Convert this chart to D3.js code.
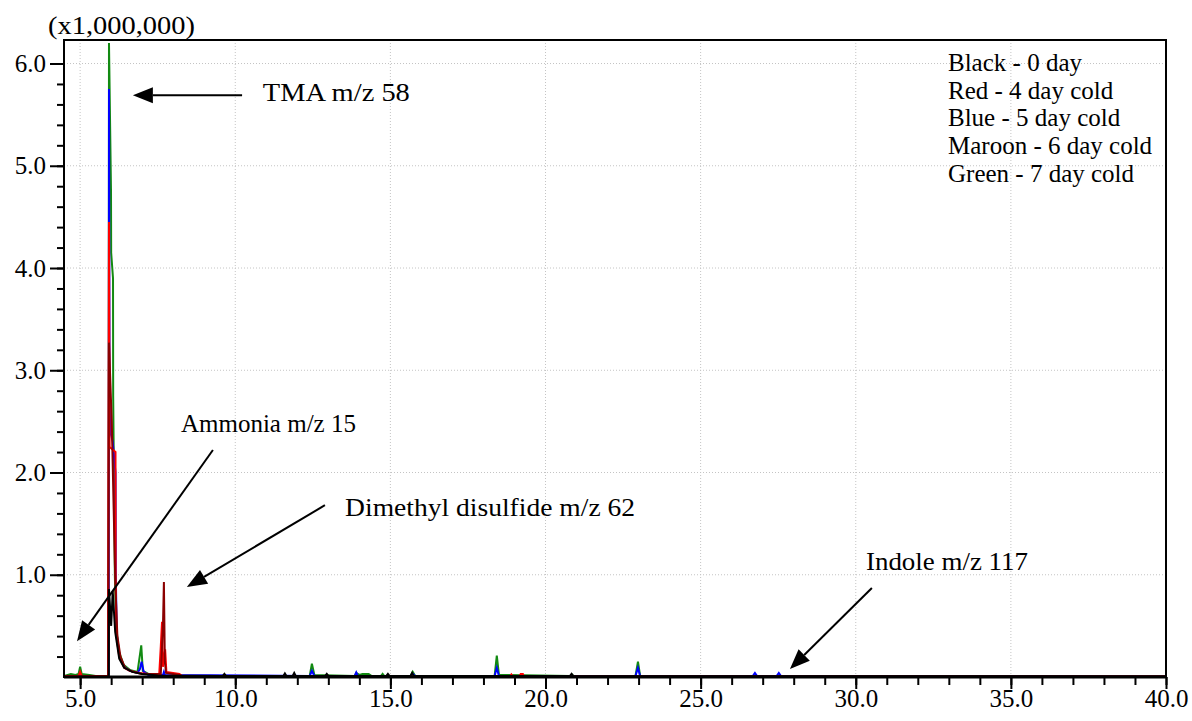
<!DOCTYPE html>
<html>
<head>
<meta charset="utf-8">
<script src="https://cdn.jsdelivr.net/npm/d3@7"></script>
<style>
  body { margin: 0; background: #fff; }
  svg text { font-family: "Liberation Serif", "Times New Roman", serif; fill: #000; }
</style>
</head>
<body>
<div id="okvir"></div>
<script>
// retention time (min) vs intensity (x1,000,000)
const greenTrace = [[4.48,0.01],[4.7,0.03],[4.85,0.02],[4.95,0.03],[5.0,0.1],[5.05,0.03],[5.3,0.02],[5.5,0.01],[5.88,0.01],[5.915,0.03],
  [5.93,6.2],[5.995,4.75],[6.0,4.15],[6.06,3.9],[6.065,2.75],[6.12,0.98],[6.16,0.5],[6.25,0.25],[6.4,0.12],[6.6,0.07],[6.85,0.05],
  [6.97,0.31],[7.02,0.06],[7.2,0.03],[7.5,0.01],[12.4,0.01],[12.47,0.13],[12.55,0.02],[13.85,0.01],[13.9,0.04],[14.0,0.02],[14.1,0.03],
  [14.3,0.03],[14.4,0.01],[14.7,0.01],[14.75,0.03],[14.8,0.01],[15.65,0.01],[15.72,0.05],[15.8,0.01],[18.36,0.01],[18.43,0.21],[18.5,0.02],
  [20.8,0.01],[20.85,0.025],[20.9,0.01],[22.9,0.01],[22.98,0.15],[23.05,0.01],[40,0.005]];

const blueTrace = [[4.48,0.005],[5.9,0.01],[5.92,0.02],[5.93,5.75],[5.95,2.7],[5.97,2.4],[6.05,2.3],[6.14,2.0],[6.15,1.0],[6.18,0.42],
  [6.27,0.2],[6.42,0.1],[6.6,0.06],[6.85,0.04],[6.93,0.08],[6.98,0.15],[7.05,0.05],[7.2,0.02],[7.67,0.02],[7.7,0.05],[7.73,0.02],
  [12.4,0.01],[12.47,0.06],[12.55,0.01],[13.85,0.01],[13.9,0.045],[13.95,0.01],[15.65,0.01],[15.72,0.03],[15.8,0.01],[18.36,0.01],
  [18.43,0.09],[18.5,0.01],[22.9,0.01],[22.98,0.09],[23.05,0.01],[26.68,0.01],[26.75,0.04],[26.82,0.01],[27.45,0.01],[27.52,0.04],
  [27.59,0.01],[40,0.005]];

const redTrace = [[4.48,0.01],[4.95,0.01],[5.0,0.05],[5.05,0.01],[5.9,0.01],[5.93,4.45],[5.95,2.25],[6.14,2.2],[6.145,1.0],[6.17,0.4],
  [6.26,0.2],[6.42,0.09],[6.6,0.06],[6.9,0.04],[7.2,0.03],[7.55,0.03],[7.6,0.3],[7.64,0.54],[7.67,0.1],[7.74,0.27],[7.78,0.05],
  [8.2,0.03],[8.3,0.005],[18.85,0.005],[18.9,0.025],[18.95,0.005],[19.15,0.005],[19.2,0.03],[19.27,0.03],[19.3,0.005],[40,0.005]];

const maroonTrace = [[4.48,0.005],[5.9,0.005],[5.93,3.27],[5.99,2.74],[6.02,2.5],[6.12,1.1],[6.15,0.8],[6.2,0.4],[6.3,0.2],[6.45,0.09],
  [6.7,0.05],[7.0,0.03],[7.6,0.03],[7.67,0.5],[7.7,0.93],[7.73,0.15],[7.77,0.04],[8.2,0.02],[8.3,0.005],[40,0.005]];

const blackTrace = [[4.48,0],[5.9,0.005],[5.925,0.01],[5.93,0.86],[6.0,0.5],[6.05,0.84],[6.13,0.44],[6.17,0.36],[6.26,0.18],[6.42,0.09],
  [6.68,0.05],[7.0,0.03],[7.5,0.015],[9.6,0.01],[9.65,0.03],[9.7,0.01],[11.55,0.01],[11.6,0.035],[11.65,0.01],[11.85,0.01],[11.9,0.04],
  [11.95,0.01],[12.9,0.01],[12.95,0.03],[13.0,0.01],[14.87,0.01],[14.92,0.03],[14.97,0.01],[15.65,0.01],[15.7,0.04],[15.75,0.01],
  [20.79,0.01],[20.84,0.03],[20.89,0.01],[40,0.005]];

const legendLines = ["Black - 0 day", "Red - 4 day cold", "Blue - 5 day cold", "Maroon - 6 day cold", "Green - 7 day cold"];

const xMajor = [5, 10, 15, 20, 25, 30, 35, 40];
const yMajor = [1, 2, 3, 4, 5, 6];

// annotations: text start (t, v) and arrow from -> tip, in data units
const annotations = [
  { text: "TMA m/z 58", tx: 10.89, ty: 5.63, sirina: 147, from: [10.22, 5.69], to: [6.70, 5.69] },
  { text: "Ammonia m/z 15", tx: 8.25, ty: 2.40, sirina: null, from: [9.28, 2.22], to: [4.90, 0.35] },
  { text: "Dimethyl disulfide m/z 62", tx: 13.54, ty: 1.575, sirina: 290, from: [12.89, 1.68], to: [8.44, 0.88] },
  { text: "Indole m/z 117", tx: 30.33, ty: 1.046, sirina: 162, from: [30.52, 0.87], to: [27.88, 0.078] }
];

const sirina = 1192, visina = 721;
const dim = { left: 64, top: 40, right: 1166, bottom: 677 };

const svg = d3.select("#okvir").append("svg")
  .attr("width", sirina).attr("height", visina);

const xSkala = d3.scaleLinear().domain([4.48, 40]).range([dim.left, dim.right]);
const ySkala = d3.scaleLinear().domain([0, 6.23]).range([dim.bottom, dim.top]);

// grid
const grid = svg.append("g").attr("stroke", "#c4c4c4").attr("stroke-width", 1)
  .attr("stroke-dasharray", "1 2");
grid.selectAll(".vg").data(xMajor.slice(0, -1)).join("line")
  .attr("x1", d => xSkala(d)).attr("x2", d => xSkala(d))
  .attr("y1", dim.top).attr("y2", dim.bottom);
grid.selectAll(".hg").data(yMajor).join("line")
  .attr("y1", d => ySkala(d)).attr("y2", d => ySkala(d))
  .attr("x1", dim.left).attr("x2", dim.right);

svg.append("clipPath").attr("id", "clip").append("rect")
  .attr("x", dim.left).attr("y", dim.top)
  .attr("width", dim.right - dim.left).attr("height", dim.bottom - dim.top);

const linija = d3.line().x(d => xSkala(d[0])).y(d => ySkala(d[1]));

const serije = [
  { data: greenTrace, boja: "#128a12" },
  { data: blueTrace, boja: "#0000ff" },
  { data: redTrace, boja: "#ff0000" },
  { data: maroonTrace, boja: "#8b0000" },
  { data: blackTrace, boja: "#000000" }
];

const tragovi = svg.append("g").attr("clip-path", "url(#clip)");
serije.forEach(s => {
  tragovi.append("path")
    .attr("d", linija(s.data))
    .attr("fill", "none")
    .attr("stroke", s.boja)
    .attr("stroke-width", 2)
    .attr("stroke-linejoin", "miter");
});

// frame
svg.append("rect")
  .attr("x", dim.left).attr("y", dim.top)
  .attr("width", dim.right - dim.left).attr("height", dim.bottom - dim.top)
  .attr("fill", "none").attr("stroke", "#000").attr("stroke-width", 2);

// x axis
const xMinor = svg.append("g").attr("transform", `translate(0,${dim.bottom})`)
  .call(d3.axisBottom(xSkala).tickValues(d3.range(5, 40.5, 1)).tickSize(8).tickSizeOuter(0).tickFormat(""));
const xOs = svg.append("g").attr("transform", `translate(0,${dim.bottom})`)
  .call(d3.axisBottom(xSkala).tickValues(xMajor).tickSize(12).tickSizeOuter(0).tickPadding(0).tickFormat(d3.format(".1f")));

// y axis
const yMinor = svg.append("g").attr("transform", `translate(${dim.left},0)`)
  .call(d3.axisLeft(ySkala).tickValues(d3.range(1, 31).map(i => i * 0.2)).tickSize(7).tickSizeOuter(0).tickFormat(""));
const yOs = svg.append("g").attr("transform", `translate(${dim.left},0)`)
  .call(d3.axisLeft(ySkala).tickValues(yMajor).tickSize(14).tickSizeOuter(0).tickPadding(4).tickFormat(d3.format(".1f")));

[xMinor, xOs, yMinor, yOs].forEach(g => {
  g.select(".domain").remove();
  g.selectAll("line").attr("stroke", "#000").attr("stroke-width", 2);
  g.selectAll("text").attr("font-family", "Liberation Serif").attr("font-size", 25).attr("fill", "#000");
});

svg.append("line")
  .attr("x1", dim.left).attr("x2", dim.right)
  .attr("y1", dim.bottom).attr("y2", dim.bottom)
  .attr("stroke", "#000").attr("stroke-width", 3);

svg.append("text")
  .attr("x", 48).attr("y", 34)
  .attr("font-size", 25)
  .attr("textLength", 147).attr("lengthAdjust", "spacingAndGlyphs")
  .text("(x1,000,000)");

// annotations
const strelica = (a, b) => {
  const x1 = xSkala(a[0]), y1 = ySkala(a[1]);
  const x2 = xSkala(b[0]), y2 = ySkala(b[1]);
  const kut = Math.atan2(y2 - y1, x2 - x1);
  const duz = 20, pola = 8;
  const bx = x2 - duz * Math.cos(kut), by = y2 - duz * Math.sin(kut);
  svg.append("line")
    .attr("x1", x1).attr("y1", y1).attr("x2", bx).attr("y2", by)
    .attr("stroke", "#000").attr("stroke-width", 2);
  const tocke = [
    [x2, y2],
    [bx + pola * Math.sin(kut), by - pola * Math.cos(kut)],
    [bx - pola * Math.sin(kut), by + pola * Math.cos(kut)]
  ];
  svg.append("polygon").attr("points", tocke.map(p => p.join(",")).join(" ")).attr("fill", "#000");
};

annotations.forEach(a => {
  const t = svg.append("text")
    .attr("x", xSkala(a.tx)).attr("y", ySkala(a.ty))
    .attr("font-size", 25)
    .text(a.text);
  if (a.sirina) t.attr("textLength", a.sirina).attr("lengthAdjust", "spacingAndGlyphs");
  strelica(a.from, a.to);
});

// legend
svg.append("g").selectAll("text").data(legendLines).join("text")
  .attr("x", 948)
  .attr("y", (d, i) => 71 + i * 27.7)
  .attr("font-size", 25)
  .text(d => d);
</script>
</body>
</html>
